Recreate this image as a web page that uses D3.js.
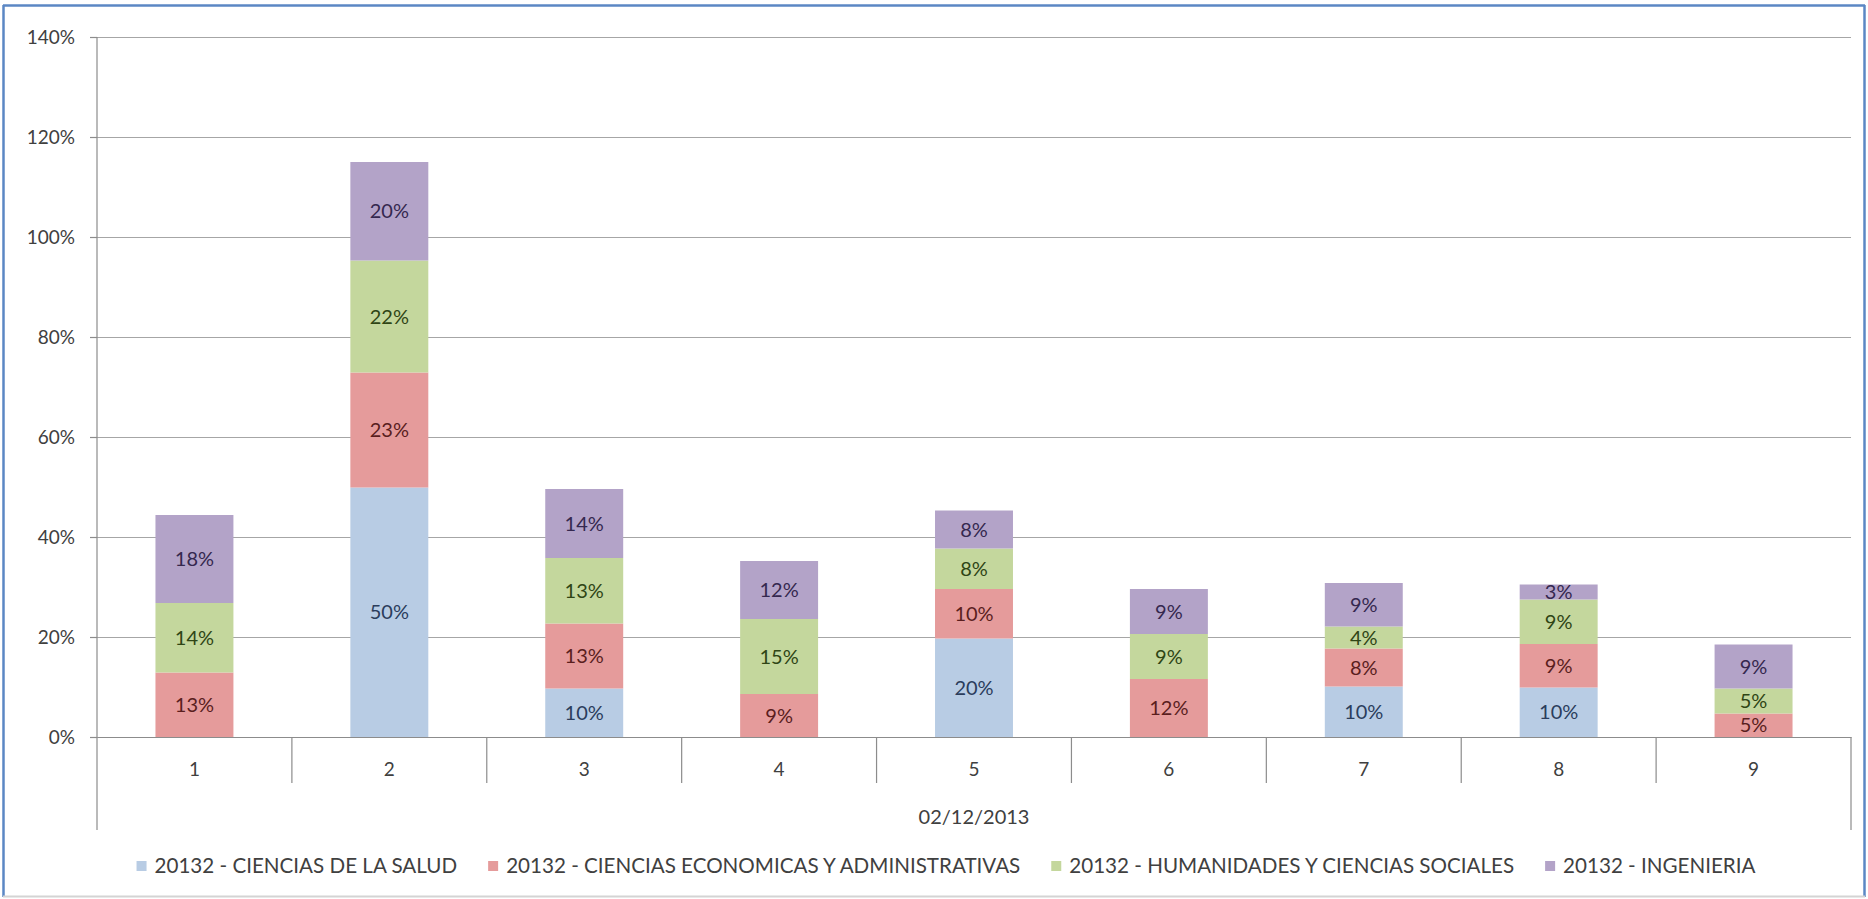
<!DOCTYPE html>
<html>
<head>
<meta charset="utf-8">
<script src="https://cdn.jsdelivr.net/npm/d3@7/dist/d3.min.js"></script>
<style>
  html, body { margin: 0; padding: 0; background: #ffffff; }
  svg { display: block; }
  text { font-family: Lato, "Open Sans", sans-serif; }
</style>
</head>
<body>
<svg id="chart" width="1868" height="899"></svg>
<script>
// ---- data ----
const categories = ["1", "2", "3", "4", "5", "6", "7", "8", "9"];
const seriesNames = [
  "20132 - CIENCIAS DE LA SALUD",
  "20132 - CIENCIAS ECONOMICAS Y ADMINISTRATIVAS",
  "20132 - HUMANIDADES Y CIENCIAS SOCIALES",
  "20132 - INGENIERIA"
];
const salud = [0, 49.9, 9.7, 0, 19.7, 0, 10.1, 9.9, 0];
const econ  = [12.9, 23.0, 13.0, 8.6, 9.9, 11.6, 7.6, 8.7, 4.7];
const hum   = [13.9, 22.4, 13.1, 15.0, 8.1, 9.0, 4.4, 8.9, 5.0];
const ing   = [17.6, 19.7, 13.8, 11.6, 7.6, 9.0, 8.7, 3.0, 8.8];
const yTicks = [0, 20, 40, 60, 80, 100, 120, 140];
const xTitle = "02/12/2013";

(function () {
// ---- styles ----
const fills = ["#B8CCE4", "#E59B9B", "#C4D79D", "#B3A3C8"];
const labelColors = ["#2B3D5C", "#5A1E1E", "#2F4515", "#35284F"];
const keys = ["salud", "econ", "hum", "ing"];

const svg = d3.select("#chart");
const pLeft = 97, pRight = 1851, pTop = 37, pBottom = 737;

// outer frame
svg.append("line").attr("x1", 3.5).attr("y1", 5).attr("x2", 3.5).attr("y2", 897).attr("stroke", "#5B87C4").attr("stroke-width", 2.5);
svg.append("line").attr("x1", 3).attr("y1", 5.5).attr("x2", 1865).attr("y2", 5.5).attr("stroke", "#5B87C4").attr("stroke-width", 2.5);
svg.append("line").attr("x1", 1864.5).attr("y1", 5).attr("x2", 1864.5).attr("y2", 897).attr("stroke", "#5B87C4").attr("stroke-width", 2.5);
svg.append("line").attr("x1", 3).attr("y1", 896.5).attr("x2", 1865).attr("y2", 896.5).attr("stroke", "#D4D4D4").attr("stroke-width", 2);

const rows = categories.map((c, i) => ({ cat: c, salud: salud[i], econ: econ[i], hum: hum[i], ing: ing[i] }));
const stacked = d3.stack().keys(keys)(rows);

const x = d3.scaleBand().domain(categories).range([pLeft, pRight]).paddingInner(0.6).paddingOuter(0.3);
const y = d3.scaleLinear().domain([0, 140]).range([pBottom, pTop]);
const step = x.step();

// gridlines
const grid = svg.append("g").attr("transform", `translate(${pLeft},0)`)
  .call(d3.axisLeft(y).tickValues(yTicks).tickSize(-(pRight - pLeft)).tickFormat(""));
grid.select(".domain").remove();
grid.selectAll(".tick line").attr("stroke", "#A6A6A6").attr("stroke-width", 1.2);

// y axis
const yAx = svg.append("g").attr("transform", `translate(${pLeft},0)`)
  .call(d3.axisLeft(y).tickValues(yTicks).tickSize(7).tickPadding(15).tickFormat(d => d + "%"));
yAx.select(".domain").remove();
yAx.selectAll(".tick line").attr("stroke", "#8C8C8C").attr("stroke-width", 1.2);
yAx.selectAll(".tick text").attr("font-size", 19).attr("fill", "#404040").attr("font-family", "Lato, sans-serif");
svg.append("line").attr("x1", pLeft).attr("x2", pLeft).attr("y1", pTop).attr("y2", 830).attr("stroke", "#8C8C8C").attr("stroke-width", 1.2);
svg.append("line").attr("x1", pRight).attr("x2", pRight).attr("y1", pBottom).attr("y2", 830).attr("stroke", "#8C8C8C").attr("stroke-width", 1.2);

// bars
const layers = svg.append("g").selectAll("g").data(stacked).join("g")
  .attr("fill", (d, i) => fills[i]);
layers.selectAll("rect").data(d => d).join("rect")
  .attr("x", d => x(d.data.cat))
  .attr("width", x.bandwidth())
  .attr("y", d => y(d[1]))
  .attr("height", d => y(d[0]) - y(d[1]));

// data labels
const fmt = v => Math.round(v) + "%";
stacked.forEach((layer, li) => {
  svg.append("g").selectAll("text").data(layer.filter(d => d[1] - d[0] > 0)).join("text")
    .attr("x", d => x(d.data.cat) + x.bandwidth() / 2)
    .attr("y", d => (y(d[0]) + y(d[1])) / 2)
    .attr("dy", "0.35em")
    .attr("text-anchor", "middle")
    .attr("font-size", 20)
    .attr("fill", labelColors[li])
    .text(d => fmt(d[1] - d[0]));
});

// x axis (line at 0, category labels)
const xAx = svg.append("g").attr("transform", `translate(0,${pBottom})`)
  .call(d3.axisBottom(x).tickSize(0).tickPadding(26));
xAx.select(".domain").attr("stroke", "#8C8C8C").attr("stroke-width", 1.2);
xAx.selectAll(".tick text").attr("font-size", 19).attr("fill", "#404040").attr("font-family", "Lato, sans-serif");

// category dividers
const dividers = categories.slice(1).map(c => x(c) - step * 0.3);
svg.append("g").selectAll("line").data(dividers).join("line")
  .attr("x1", d => d).attr("x2", d => d)
  .attr("y1", pBottom).attr("y2", 783)
  .attr("stroke", "#8C8C8C").attr("stroke-width", 1.2);

// x title
svg.append("text").attr("x", (pLeft + pRight) / 2).attr("y", 817).attr("dy", "0.35em")
  .attr("text-anchor", "middle").attr("font-size", 20).attr("fill", "#404040").text(xTitle);

// legend
const legend = svg.append("g");
let cx = 0;
seriesNames.forEach((name, i) => {
  const g = legend.append("g").attr("transform", `translate(${cx},0)`);
  g.append("rect").attr("x", 0).attr("y", -5).attr("width", 10).attr("height", 10).attr("fill", fills[i]);
  const t = g.append("text").attr("x", 18).attr("y", 0).attr("dy", "0.35em")
    .attr("font-size", 20.6).attr("fill", "#404040").text(name);
  const w = t.node().getComputedTextLength();
  cx += 18 + w + 31;
});
const totalW = cx - 31;
legend.attr("transform", `translate(${946 - totalW / 2},866)`);
})();
</script>
</body>
</html>
